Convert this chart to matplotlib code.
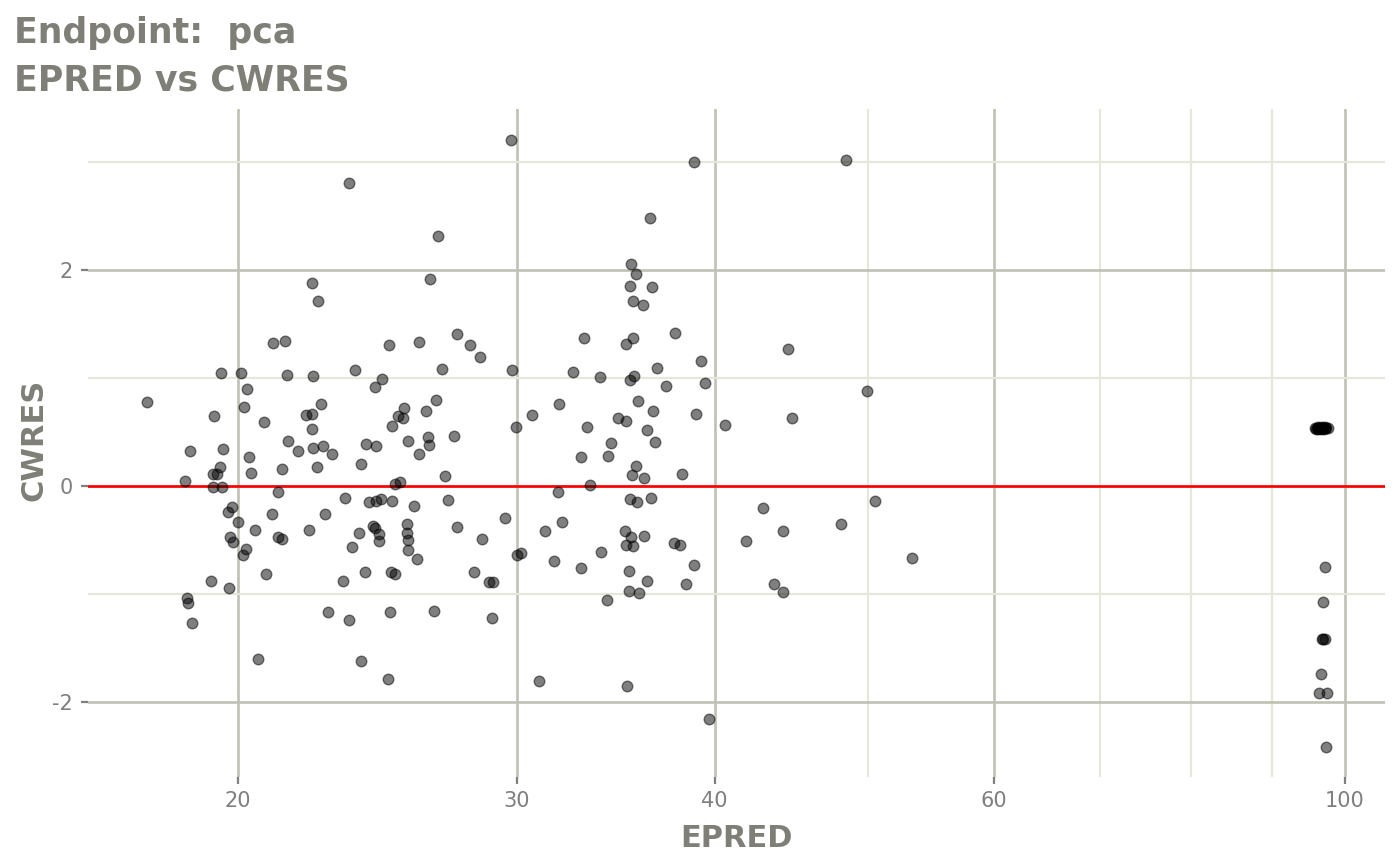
import matplotlib
matplotlib.use("Agg")
import matplotlib.pyplot as plt
from matplotlib.ticker import FixedLocator, NullFormatter

# ---------------- data ----------------
epred = [
    23.49, 22.27, 22.48, 21.04, 21.41, 24.91, 19.51, 20.08, 21.48, 22.30,
    23.70, 24.66, 24.42, 20.25, 17.53, 20.17, 19.30, 22.57, 22.07, 22.27,
    25.46, 25.25, 25.41, 20.76, 25.00, 22.27, 21.52, 25.60, 18.64, 19.57,
    21.82, 22.31, 22.63, 22.94, 24.08, 24.44, 20.33, 23.93, 19.47, 19.28,
    19.39, 20.38, 21.31, 22.42, 18.51, 19.28, 19.53, 21.21, 25.12, 25.31,
    23.38, 24.21, 24.46, 24.62, 25.00, 19.83, 19.71, 21.01, 22.71,
    20.00, 20.50, 22.17, 24.34, 24.41, 23.86, 24.55, 25.56, 25.58, 19.77,
    19.86, 21.19, 21.32, 24.54, 23.61, 25.62, 25.60, 20.22, 20.15, 20.82,
    24.04, 24.98, 25.11, 23.29, 19.23, 19.75, 18.56, 18.60, 22.80, 23.49,
    24.93, 18.70, 20.58, 23.93, 24.88,
    29.74, 38.79, 26.76, 36.43, 26.45, 35.39, 35.67, 35.37, 36.49, 35.54,
    36.03, 26.01, 27.50, 28.02, 28.45, 33.06, 35.54, 35.18, 37.76, 39.23,
    26.92, 29.80, 32.54, 33.86, 35.57, 35.37, 36.78, 39.42, 37.24, 26.67,
    26.28, 31.90, 35.79, 30.66, 29.96, 33.21, 34.73, 35.15, 36.56, 38.91,
    36.27, 26.36, 26.40, 27.38, 26.01, 34.42, 36.69, 32.92, 34.26,
    35.65, 35.47, 36.09, 38.16, 27.01, 33.38, 31.86, 27.15, 25.82, 35.37,
    35.72, 36.46, 29.48, 27.49, 31.25, 32.02, 35.13, 35.41, 36.10, 25.93,
    28.53, 35.17, 35.51, 37.68, 38.01, 33.92, 30.01, 30.19, 31.67, 32.95,
    35.29, 38.79, 28.19, 28.82, 28.98, 36.27, 38.35, 35.31, 35.83, 34.21,
    26.59, 28.93, 30.97, 35.20, 39.69,
    48.44, 44.50, 49.90, 44.78, 40.62, 42.91, 44.20, 41.86, 48.07, 50.46,
    53.25, 43.62, 44.18,
    95.8, 95.9, 96.0, 96.1, 96.2, 96.3, 96.4, 96.5, 96.6, 96.7,
    96.8, 96.9, 97.0, 97.1, 97.2, 97.3, 97.5,
    97.1, 96.9, 96.7, 96.9, 97.1, 96.6, 96.3, 97.4, 97.3,
]

cwres = [
    2.808, 1.880, 1.716, 1.324, 1.343, 1.303, 1.046, 1.049, 1.031, 1.021,
    1.077, 0.988, 0.919, 0.898, 0.781, 0.734, 0.645, 0.759, 0.655, 0.667,
    0.719, 0.648, 0.632, 0.593, 0.556, 0.528, 0.417, 0.419, 0.327, 0.343,
    0.327, 0.352, 0.368, 0.296, 0.386, 0.373, 0.269, 0.206, 0.173, 0.108,
    0.111, 0.120, 0.157, 0.173, 0.049, -0.012, -0.012, -0.053, 0.016, 0.034,
    -0.114, -0.145, -0.139, -0.120, -0.139, -0.192, -0.241, -0.262, -0.256,
    -0.333, -0.407, -0.410, -0.366, -0.389, -0.432, -0.442, -0.349, -0.438, -0.475,
    -0.521, -0.475, -0.491, -0.509, -0.562, -0.500, -0.595, -0.581, -0.642, -0.812,
    -0.796, -0.794, -0.812, -0.880, -0.877, -0.942, -1.034, -1.086, -1.169, -1.244,
    -1.164, -1.271, -1.599, -1.618, -1.784,
    3.204, 3.000, 2.315, 2.479, 1.914, 2.056, 1.963, 1.852, 1.840, 1.716,
    1.679, 1.331, 1.405, 1.303, 1.197, 1.368, 1.368, 1.315, 1.414, 1.160,
    1.081, 1.074, 1.053, 1.009, 1.021, 0.981, 1.090, 0.954, 0.929, 0.799,
    0.697, 0.759, 0.787, 0.655, 0.546, 0.549, 0.632, 0.599, 0.692, 0.667,
    0.516, 0.451, 0.380, 0.466, 0.299, 0.401, 0.407, 0.271, 0.281,
    0.185, 0.102, 0.077, 0.114, 0.093, 0.009, -0.053, -0.127, -0.185, -0.123,
    -0.148, -0.108, -0.296, -0.382, -0.419, -0.331, -0.419, -0.469, -0.463, -0.679,
    -0.494, -0.549, -0.558, -0.525, -0.549, -0.614, -0.636, -0.623, -0.694, -0.759,
    -0.787, -0.734, -0.799, -0.886, -0.886, -0.882, -0.907, -0.975, -0.994, -1.056,
    -1.155, -1.219, -1.803, -1.855, -2.157,
    3.019, 1.269, 0.880, 0.630, 0.565, -0.206, -0.417, -0.512, -0.349, -0.139,
    -0.667, -0.907, -0.984,
    0.540, 0.530, 0.540, 0.545, 0.530, 0.540, 0.535, 0.540, 0.530, 0.545,
    0.535, 0.540, 0.530, 0.540, 0.545, 0.535, 0.540,
    -0.747, -1.077, -1.414, -1.414, -1.414, -1.744, -1.914, -1.914, -2.419,
]

x_major = [20, 30, 40, 60, 100]
x_major_labels = ["20", "30", "40", "60", "100"]
x_minor = [50, 70, 80, 90]
y_major = [-2, 0, 2]
y_major_labels = ["-2", "0", "2"]
y_minor = [-1, 1, 3]

title_line1 = "Endpoint:  pca"
title_line2 = "EPRED vs CWRES"
x_label = "EPRED"
y_label = "CWRES"

# ---------------- style ----------------
TEXT_COL = "#7F7F77"
TICK_COL = "#7F7F7F"
MAJOR_GRID = "#C0C0B4"
MINOR_GRID = "#E6E6DA"

W, H = 1400, 865
fig = plt.figure(figsize=(W / 100, H / 100), dpi=100)
fig.patch.set_facecolor("white")

left, right, top, bottom = 88, 1385, 109, 777
ax = fig.add_axes([left / W, 1 - bottom / H, (right - left) / W, (bottom - top) / H])
ax.set_facecolor("white")
ax.set_xscale("log")
ax.set_xlim(16.08, 106.0)
ax.set_ylim(-2.694, 3.491)

ax.xaxis.set_major_locator(FixedLocator(x_major))
ax.set_xticklabels(x_major_labels)
ax.xaxis.set_minor_locator(FixedLocator(x_minor))
ax.xaxis.set_minor_formatter(NullFormatter())
ax.yaxis.set_major_locator(FixedLocator(y_major))
ax.set_yticklabels(y_major_labels)
ax.yaxis.set_minor_locator(FixedLocator(y_minor))
ax.yaxis.set_minor_formatter(NullFormatter())

ax.set_axisbelow(True)
ax.grid(which="minor", color=MINOR_GRID, linewidth=1.6)
ax.grid(which="major", color=MAJOR_GRID, linewidth=1.9)
for s in ax.spines.values():
    s.set_visible(False)

ax.tick_params(which="major", length=5, width=1.6, color=TICK_COL,
               labelcolor=TICK_COL, labelsize=15)
ax.tick_params(axis="x", which="major", pad=5)
ax.tick_params(axis="y", which="major", pad=6)
ax.tick_params(which="minor", length=0)

ax.axhline(0, color="#FF0000", linewidth=1.9, zorder=2)

ax.scatter(epred, cwres, s=58, facecolor="black", edgecolor="black",
           linewidths=1.0, alpha=0.5, zorder=3)

# titles & axis labels
fig.text(14 / W, 1 - 43.3 / H, title_line1, ha="left", va="baseline",
         fontsize=25, fontweight="bold", color=TEXT_COL)
fig.text(14 / W, 1 - 90.7 / H, title_line2, ha="left", va="baseline",
         fontsize=25, fontweight="bold", color=TEXT_COL)
fig.text(736.5 / W, 1 - 847 / H, x_label, ha="center", va="baseline",
         fontsize=22, fontweight="bold", color=TEXT_COL)
fig.text(42 / W, 1 - 440 / H, y_label, ha="center", va="baseline",
         rotation=90, rotation_mode="anchor",
         fontsize=22, fontweight="bold", color=TEXT_COL)

fig.savefig("out.png", dpi=100, facecolor="white")
